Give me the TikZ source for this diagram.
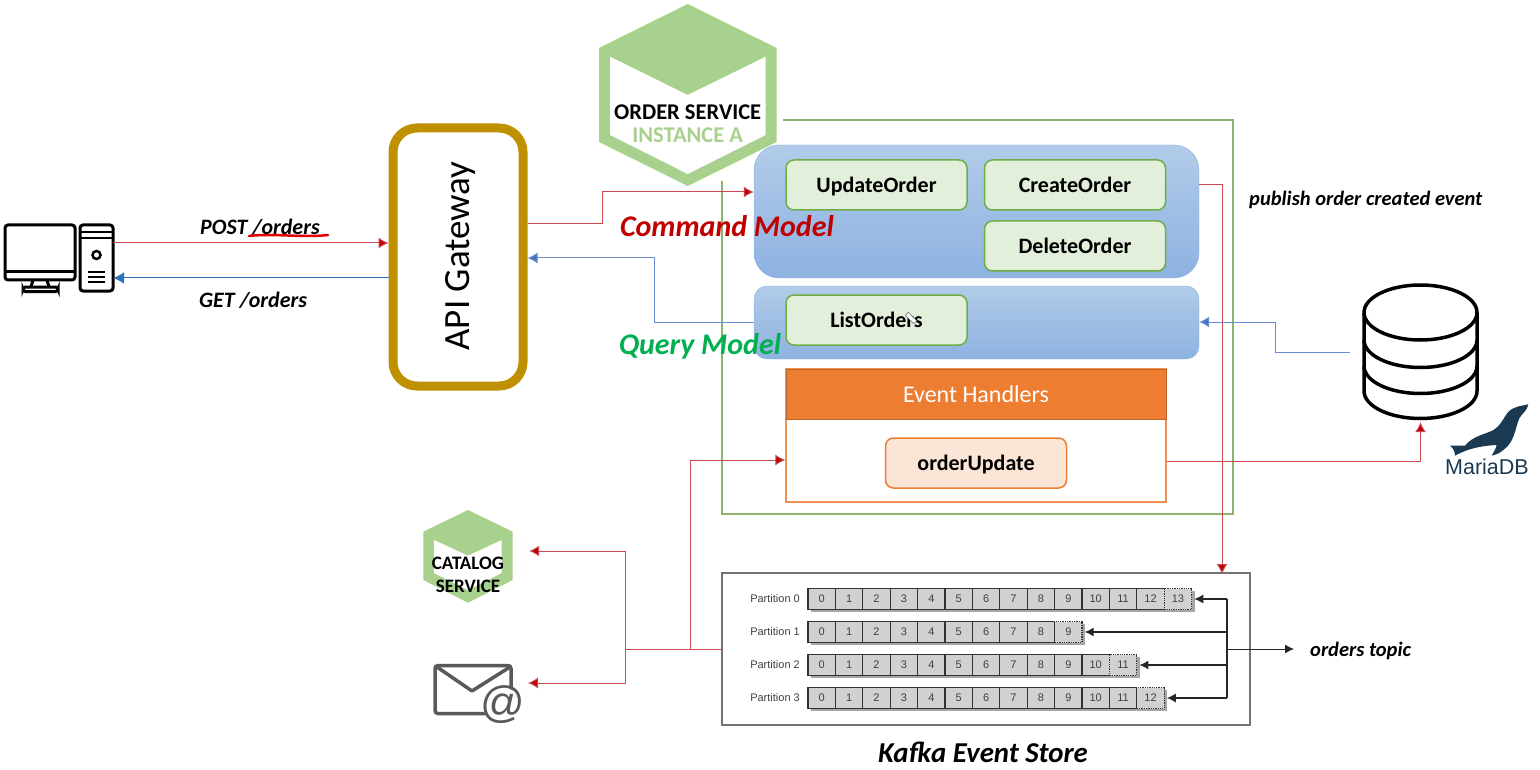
\documentclass[tikz,border=0pt]{standalone}
\usepackage{fontspec}
\setmainfont{Carlito}
\newfontfamily\labelfont{Liberation Sans}
\usetikzlibrary{arrows.meta,positioning,calc}
\definecolor{cmdred}{HTML}{C00000}
\definecolor{redwire}{HTML}{C8484C}
\definecolor{qrygreen}{HTML}{00B050}
\definecolor{hexgreen}{HTML}{A9D18E}
\definecolor{boxgreen}{HTML}{8DB572}
\definecolor{tilegreen}{HTML}{E2EFDA}
\definecolor{tileline}{HTML}{70AD47}
\definecolor{gatewaygold}{HTML}{BF9000}
\definecolor{handlerorange}{HTML}{ED7D31}
\definecolor{blueline}{HTML}{4472C4}
\definecolor{clientblue}{HTML}{2E75B6}
\definecolor{modeltop}{HTML}{B2CBE9}
\definecolor{modelbottom}{HTML}{8DB2E1}
\definecolor{sealblue}{HTML}{1B3A52}
\tikzset{
  model/.style      = {draw=modelbottom, top color=modeltop, bottom color=modelbottom, rectangle, inner sep=0pt, minimum width=445pt},
  cmdtile/.style    = {draw=tileline, line width=1.5pt, fill=tilegreen, rectangle, rounded corners=8pt, inner sep=0pt,
                       minimum width=181pt, minimum height=50pt, text height=18pt, text depth=3pt, font=\fontsize{22}{22}\selectfont\bfseries},
  note/.style       = {font=\fontsize{20.5}{21}\selectfont\bfseries\itshape, inner sep=0pt},
  clientnote/.style = {note, font=\fontsize{22}{22}\selectfont\bfseries\itshape},
  redsig/.style     = {-{Latex[length=10pt,width=11pt,fill=cmdred]}, draw=redwire, line width=1pt},
  bluesig/.style    = {-{Latex[length=10pt,width=11pt,fill=blueline]}, draw=blueline!80!white, line width=1pt},
  blacksig/.style   = {-{Latex[length=9pt,width=9pt]}, draw=black!85, line width=1.2pt},
  cell/.style       = {draw=black!80, line width=1.3pt, fill=black!18, rectangle, inner sep=0pt, minimum width=27.4pt,
                       minimum height=21pt, font=\fontsize{11}{11}\selectfont\labelfont, text=black!75},
  newcell/.style    = {cell, densely dotted},
  partlabel/.style  = {font=\fontsize{11}{11}\selectfont\labelfont, text=black!75, inner sep=0pt, anchor=east},
  icon/.style       = {draw=black, line width=3.5pt, line join=round},
}
\begin{document}
\begin{tikzpicture}[x=1pt,y=-1pt]
\useasboundingbox (0,0) rectangle (1540,770);
% order service frame and hexagon
\draw[boxgreen, line width=1.8pt] (783,120) -- (1233,120) -- (1233,514) -- (722,514) -- (722,181);
\fill[hexgreen] (687.7,4) -- (776.7,48) -- (776.7,142) -- (687.7,186) -- (599,142) -- (599,48) -- cycle;
\fill[white] (610,56.7) -- (687.7,95) -- (765.7,56.7) -- (765.7,135) -- (687.7,174) -- (610,135) -- cycle;
\node[font=\fontsize{22.5}{22}\selectfont\bfseries, inner sep=0pt] (orderName) at (687.7,112) {ORDER SERVICE};
\node[font=\fontsize{22.5}{22}\selectfont\bfseries, text=hexgreen, inner sep=0pt] (orderInst) at (687.7,135) {INSTANCE A};
% gateway
\node[draw=gatewaygold, line width=9pt, rectangle, rounded corners=24pt, minimum width=130pt, minimum height=258pt, inner sep=0pt] (gateway) at (458,257) {};
\node[rotate=90, font=\fontsize{37}{37}\selectfont, inner sep=0pt] (gatewayText) at (460,256) {API Gateway};
% command and query models
\node[model, rounded corners=25pt, minimum height=133pt] (cmdModel) at (976.5,211.5) {};
\node[model, rounded corners=13pt, minimum height=73pt] (qryModel) at (976.5,322.5) {};
\node[cmdtile] (updateOrder) at (876.5,185) {UpdateOrder};
\node[cmdtile] (createOrder) at (1075,185) {CreateOrder};
\node[cmdtile] (deleteOrder) at (1075,246) {DeleteOrder};
\node[cmdtile] (listOrders) at (876.5,320) {ListOrders};
\draw[black!50, fill=white, line width=.7pt, rotate around={-45:(911,318)}] (905,316) rectangle (917,320);
% event handlers
\node[draw=handlerorange!85!white, line width=1.5pt, fill=white, rectangle, minimum width=380pt, minimum height=133pt, inner sep=0pt] (handlerBox) at (976,435.5) {};
\node[draw=handlerorange!80!black, fill=handlerorange, rectangle, minimum width=380pt, minimum height=50pt, inner sep=0pt, text=white, font=\fontsize{24}{24}\selectfont] (handlerHead) at (976,394) {Event Handlers};
\node[draw=handlerorange, line width=1.5pt, fill=handlerorange!20, rectangle, rounded corners=8pt, minimum width=181pt, minimum height=50pt, inner sep=0pt, text height=18pt, text depth=3pt, font=\fontsize{22}{22}\selectfont\bfseries] (orderUpdate) at (976,463) {orderUpdate};
% kafka store
\node[draw=black!55, line width=1.3pt, rectangle, minimum width=528pt, minimum height=152pt, inner sep=0pt] (kafka) at (986,649) {};
\foreach \row/\yy/\cnt in {0/599/13, 1/632/9, 2/665/11, 3/698/12} {
  \node[partlabel] (part\row) at (800,\yy) {Partition \row};
  \fill[black!35] (810.5,\yy-8) rectangle (808+27.4*\cnt+27.4+3,\yy+13);
  \foreach \c in {0,...,\cnt} {
    \ifnum\c=\cnt
      \node[newcell] (c\row-\c) at (821.7+27.4*\c,\yy) {\c};
    \else
      \node[cell] (c\row-\c) at (821.7+27.4*\c,\yy) {\c};
    \fi
  }
}
\coordinate (kafkaBus) at (1227,649);
\draw[blacksig] (kafkaBus |- c0-13) -- ([xshift=2pt]c0-13.east);
\draw[blacksig] (kafkaBus |- c1-9) -- ([xshift=2pt]c1-9.east);
\draw[blacksig] (kafkaBus |- c2-11) -- ([xshift=2pt]c2-11.east);
\draw[blacksig] (kafkaBus |- c3-12) -- ([xshift=2pt]c3-12.east);
\draw[draw=black!85, line width=1.2pt] (kafkaBus |- c0-13) -- (kafkaBus |- c3-12);
\coordinate (topicEnd) at (1294,649);
\draw[blacksig, line width=1pt] (kafkaBus) -- (topicEnd);
\node[note, anchor=west] (topicText) at (1310,651) {orders topic};
\node[font=\fontsize{28.8}{29}\selectfont\bfseries\itshape, inner sep=0pt] (kafkaText) at (983,752) {Kafka Event Store};
% computer
\node[inner sep=0pt, minimum width=33pt, minimum height=66pt] (tower) at (96.5,258) {};
\draw[line width=3pt, rounded corners=3pt] (5,225) rectangle (75,280);
\draw[line width=3pt] (5,272) -- (75,272);
\draw[line width=3pt] (33,280) -- (31,287) (47,280) -- (49,287);
\draw[line width=3pt, rounded corners=2.5pt] (23,287) rectangle (58,291.5);
\draw[line width=3pt, rounded corners=3pt] (80,225) rectangle (113,291);
\draw[line width=2pt] (80,232) -- (113,232) (80,238) -- (113,238);
\draw[line width=2.5pt] (96.5,255) circle (4);
\draw[line width=2pt] (88,272) -- (105,272) (88,277) -- (105,277) (88,282) -- (105,282);
% gateway to models
\draw[redsig] (gateway.east |- 0,224) -| (602,192) -- (cmdModel.west |- 0,192);
\draw[bluesig] (qryModel.west) -| (654,258) -- (gateway.east |- 0,258);
% client arrows
\draw[redsig] (tower.east |- 0,243) -- (gateway.west |- 0,243);
\draw[-{Latex[length=11pt,width=12pt,fill=clientblue]}, draw=clientblue, line width=1pt] (gateway.west |- 0,278) -- (tower.east |- 0,278);
\node[clientnote, anchor=west] (postText) at (200,227) {POST /orders};
\node[clientnote, anchor=west] (getText) at (199,300) {GET /orders};
\draw[red!90!black, line width=2.5pt, line cap=round] (249,236) .. controls (275,233) and (300,238) .. (328,235);
\node[font=\fontsize{30}{30}\selectfont\bfseries\itshape, text=cmdred, inner sep=0pt] (cmdText) at (727,226) {Command Model};
\node[font=\fontsize{30}{30}\selectfont\bfseries\itshape, text=qrygreen, inner sep=0pt] (qryText) at (700,346) {Query Model};
\node[note, anchor=west] (publishText) at (1249,200) {publish order created event};
% database
\node[inner sep=0pt, minimum width=113pt, minimum height=134pt] (db) at (1420.5,352) {};
\draw[icon] (1420.5,312.5) ellipse (56.5 and 27.5);
\draw[icon] (1364,312.5) -- (1364,391) arc[start angle=180, end angle=0, x radius=56.5, y radius=27.5] -- (1477,312.5);
\draw[icon] (1364,340) arc[start angle=180, end angle=0, x radius=56.5, y radius=27.5];
\draw[icon] (1364,366) arc[start angle=180, end angle=0, x radius=56.5, y radius=27.5];
% seal
\begin{scope}[shift={(1340,280)}, x=.3333pt, y=-.3333pt]
\fill[sealblue] (330,497) -- (375,497) .. controls (395,472) and (425,465) .. (450,455) .. controls (478,445) and (488,418) .. (503,398)
  .. controls (520,378) and (545,378) .. (565,373) .. controls (562,392) and (548,398) .. (538,415) .. controls (525,445) and (525,485) .. (490,510)
  .. controls (480,520) and (465,525) .. (455,527) .. controls (462,515) and (468,505) .. (470,495) .. controls (440,497) and (395,500) .. (345,527)
  .. controls (345,515) and (340,505) .. (330,497) -- cycle;
\end{scope}
\node[font=\fontsize{21.5}{22}\selectfont\labelfont, text=sealblue, inner sep=0pt] (mariaText) at (1487,467) {MariaDB};
% publish and store arrows
\draw[redsig] (cmdModel.east |- 0,185) -| (1222,574);
\draw[bluesig, shorten <=14pt] (db.west) -| (1275,322) -- (qryModel.east |- 0,322);
\draw[redsig, shorten >=3pt] (handlerBox.east |- 0,461) -| (db.south);
% catalog service and mail
\fill[hexgreen] (468,510) -- (512.7,531.7) -- (512.7,580) -- (468,602.7) -- (423.3,580) -- (423.3,531.7) -- cycle;
\fill[white] (434,540) -- (468,555.7) -- (501.7,540) -- (501.7,573) -- (468,590) -- (434,573) -- cycle;
\node[font=\fontsize{19}{19}\selectfont\bfseries, inner sep=0pt] (catalogName) at (468,563) {CATALOG};
\node[font=\fontsize{19}{19}\selectfont\bfseries, inner sep=0pt] (catalogSub) at (468,586) {SERVICE};
\node[inner sep=0pt, minimum width=90pt, minimum height=93pt] (catalog) at (468,556) {};
\node[draw=black!65, line width=3.5pt, rectangle, rounded corners=3pt, minimum width=76pt, minimum height=48pt, inner sep=0pt] (mail) at (473,689.5) {};
\draw[black!65, line width=3.5pt, line join=round] (437,667) -- (472,691) -- (510,667);
\fill[white] (502.7,706.7) circle (19);
\node[font=\fontsize{44}{44}\selectfont\labelfont, text=black!65, inner sep=0pt] (mailAt) at (502.7,705) {@};
% kafka consumers
\coordinate (kafkaSplit) at (690,649);
\coordinate (consumerBus) at (625,649);
\draw[draw=redwire, line width=1pt] (kafka.west) -- (consumerBus);
\draw[redsig] (consumerBus) -- (625,551) -- ([xshift=16pt]catalog.east |- 0,551);
\draw[redsig] (consumerBus) -- (625,683) -- (528,683);
\draw[redsig] (kafkaSplit) |- (handlerBox.west |- 0,460);
\end{tikzpicture}
\end{document}
